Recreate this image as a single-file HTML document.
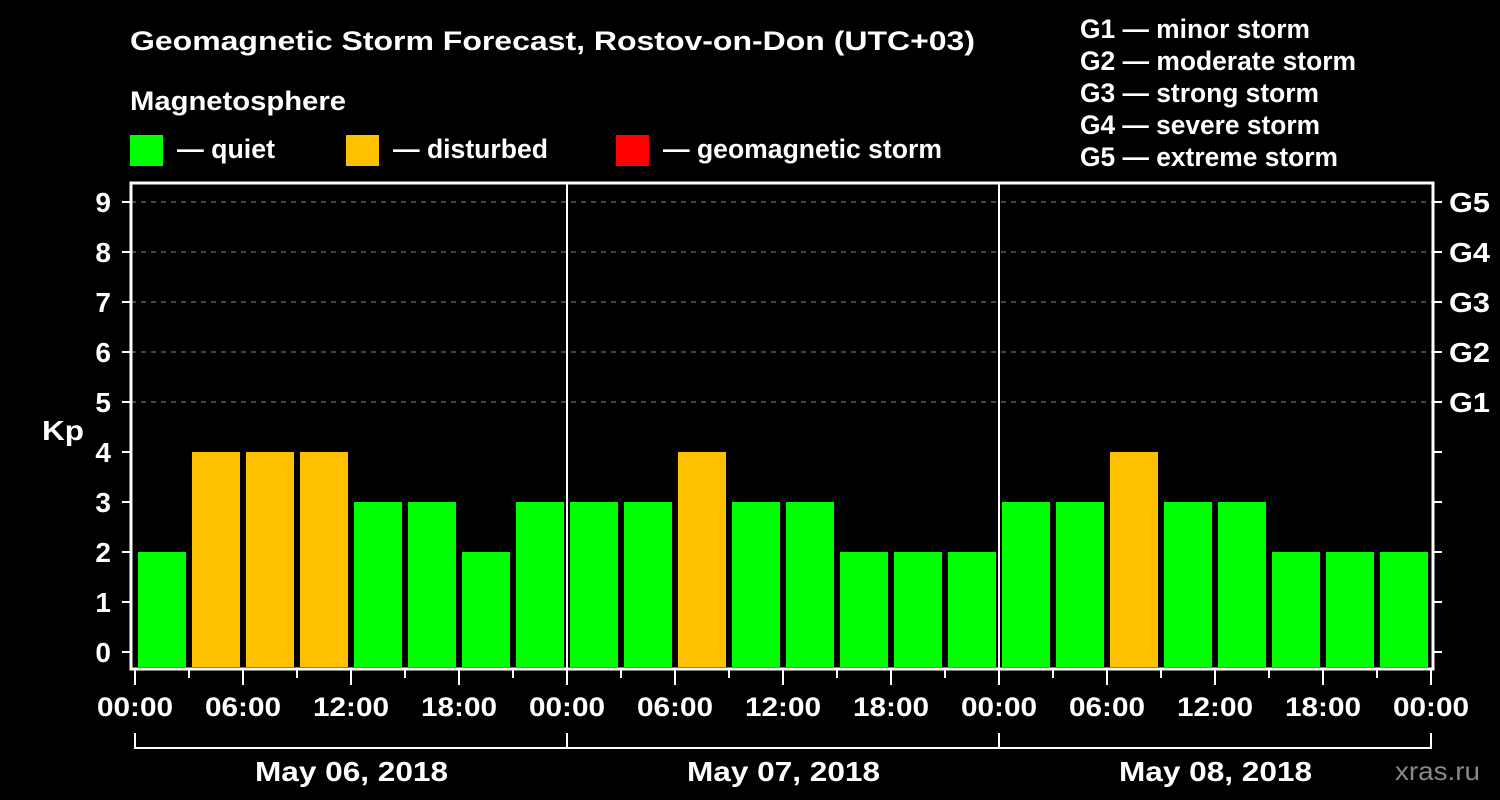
<!DOCTYPE html>
<html><head><meta charset="utf-8"><style>
body{margin:0;background:#000;}
svg{display:block;font-family:"Liberation Sans",Arial,sans-serif;font-weight:bold;}
</style></head><body>
<svg width="1500" height="800" viewBox="0 0 1500 800">
<rect width="1500" height="800" fill="#000"/>
<text x="130" y="50" fill="#fff" font-size="27" textLength="845" lengthAdjust="spacingAndGlyphs">Geomagnetic Storm Forecast, Rostov-on-Don (UTC+03)</text>
<text x="130" y="110" fill="#fff" font-size="27" textLength="216" lengthAdjust="spacingAndGlyphs">Magnetosphere</text>
<g><rect x="130" y="135" width="33" height="31" fill="#00ff00"/><text x="177" y="158" fill="#fff" font-size="27" textLength="98" lengthAdjust="spacingAndGlyphs">— quiet</text></g>
<g><rect x="346" y="135" width="33" height="31" fill="#ffc000"/><text x="393" y="158" fill="#fff" font-size="27" textLength="155" lengthAdjust="spacingAndGlyphs">— disturbed</text></g>
<g><rect x="616" y="135" width="33" height="31" fill="#ff0000"/><text x="663" y="158" fill="#fff" font-size="27" textLength="279" lengthAdjust="spacingAndGlyphs">— geomagnetic storm</text></g>
<g fill="#fff" font-size="27">
<text x="1080" y="38" textLength="230" lengthAdjust="spacingAndGlyphs">G1 — minor storm</text>
<text x="1080" y="70" textLength="276" lengthAdjust="spacingAndGlyphs">G2 — moderate storm</text>
<text x="1080" y="102" textLength="239" lengthAdjust="spacingAndGlyphs">G3 — strong storm</text>
<text x="1080" y="134" textLength="240" lengthAdjust="spacingAndGlyphs">G4 — severe storm</text>
<text x="1080" y="166" textLength="258" lengthAdjust="spacingAndGlyphs">G5 — extreme storm</text>
</g>
<g id="grid"></g>
<g id="bars"></g>
<g id="axes"></g>
<text x="42" y="440" fill="#fff" font-size="28" textLength="42" lengthAdjust="spacingAndGlyphs">Kp</text>
<text x="1395" y="780" fill="#888" font-size="26" font-weight="normal" textLength="85" lengthAdjust="spacingAndGlyphs">xras.ru</text>
</svg>
<script>
const kpValues=[2,4,4,4,3,3,2,3, 3,3,4,3,3,2,2,2, 3,3,4,3,3,2,2,2];
const dayLabels=["May 06, 2018","May 07, 2018","May 08, 2018"];
const hourLabels=["00:00","06:00","12:00","18:00"];
const gLabels=["G1","G2","G3","G4","G5"];
const NS="http://www.w3.org/2000/svg";
const x=h=>135+h*18;
const y=k=>652-50*k;
function mk(tag,attrs,parent){const e=document.createElementNS(NS,tag);for(const k in attrs)e.setAttribute(k,attrs[k]);document.getElementById(parent).appendChild(e);return e;}
for(let k=5;k<=9;k++){
 const l=mk('line',{x1:131,x2:1432,y1:y(k),y2:y(k),stroke:'#888','stroke-dasharray':'5,5'},'grid');
 
 
}
kpValues.forEach((v,i)=>{
 const col=v>=5?'#ff0000':(v>=4?'#ffc000':'#00ff00');
 const r=mk('rect',{x:x(i*3)+3,y:y(v),width:48,height:667-y(v),fill:col},'bars');
 
 
});
const f=mk('rect',{x:131,y:183,width:1302,height:486,fill:'none',stroke:'#fff','stroke-width':3},'axes');


for(let d=1;d<3;d++){
 const l=mk('line',{x1:x(d*24),x2:x(d*24),y1:183,y2:669,stroke:'#fff','stroke-width':2},'axes');
 
 
}
for(let k=0;k<=9;k++){
 mk('line',{x1:122,x2:131,y1:y(k),y2:y(k),stroke:'#fff','stroke-width':2},'axes');
 mk('line',{x1:1433,x2:1442,y1:y(k),y2:y(k),stroke:'#fff','stroke-width':2},'axes');
 const t=mk('text',{x:111,y:y(k)+10,fill:'#fff','font-size':28,'text-anchor':'end'},'axes');
 t.textContent=k;
 
 
}
gLabels.forEach((g,i)=>{
 const t=mk('text',{x:1449,y:y(5+i)+10,fill:'#fff','font-size':28,textLength:41,lengthAdjust:'spacingAndGlyphs'},'axes');
 t.textContent=g;
 
 
});
for(let h=0;h<=72;h+=3){
 const major=h%6===0;
 mk('line',{x1:x(h),x2:x(h),y1:669,y2:major?685:678,stroke:'#fff','stroke-width':2},'axes');
 if(major){
  const t=mk('text',{x:x(h)-38,y:716,fill:'#fff','font-size':27,textLength:76,lengthAdjust:'spacingAndGlyphs'},'axes');
  t.textContent=hourLabels[(h/6)%4];
  
  
 }
}
dayLabels.forEach((d,i)=>{
 const x0=x(i*24),x1=x((i+1)*24);
 mk('path',{d:`M${x0},733 V748 H${x1} V733`,fill:'none',stroke:'#fff','stroke-width':2},'axes');
 const t=mk('text',{x:(x0+x1)/2-96,y:781,fill:'#fff','font-size':28,textLength:193,lengthAdjust:'spacingAndGlyphs'},'axes');
 t.textContent=d;
 
 
});
</script>
</body></html>
